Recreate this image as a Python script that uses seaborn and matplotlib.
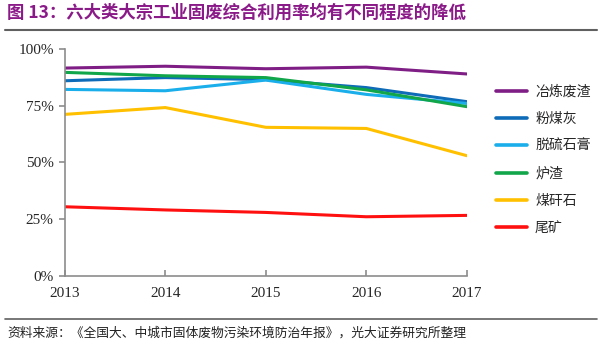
import matplotlib
matplotlib.use("Agg")
import matplotlib.pyplot as plt
import seaborn as sns
import pandas as pd
from matplotlib.lines import Line2D

years = [2013, 2014, 2015, 2016, 2017]
series_names = ["冶炼废渣", "粉煤灰", "脱硫石膏", "炉渣", "煤矸石", "尾矿"]
smelting_slag = [91.6, 92.4, 91.3, 92.0, 89.0]
fly_ash = [86.0, 87.4, 86.5, 83.0, 76.8]
desulf_gypsum = [82.2, 81.6, 86.3, 80.0, 76.0]
furnace_slag = [89.7, 88.2, 87.4, 82.0, 74.6]
coal_gangue = [71.2, 74.2, 65.5, 65.0, 53.0]
tailings = [30.5, 29.1, 28.0, 26.1, 26.7]
colors = ["#7F1F86", "#0E6BB8", "#1AAEEB", "#12A64A", "#FFC000", "#FF1010"]
yticks = [0, 25, 50, 75, 100]
ytick_labels = ["0%", "25%", "50%", "75%", "100%"]

values = [smelting_slag, fly_ash, desulf_gypsum, furnace_slag, coal_gangue, tailings]
df = pd.DataFrame({
    "year": years * len(series_names),
    "value": [v for vals in values for v in vals],
    "series": [n for n in series_names for _ in years],
})

sns.set_theme(style="white")
plt.rcParams["font.family"] = ["Liberation Serif", "Noto Sans CJK SC", "DejaVu Sans"]

fig = plt.figure(figsize=(6.0, 3.45), dpi=100)
ax = fig.add_axes([0.108, 0.2, 0.67, 0.658])

sns.lineplot(data=df, x="year", y="value", hue="series", hue_order=series_names,
             palette=colors, linewidth=2.2, ax=ax, legend=False)

ax.set_xlim(2013, 2017)
ax.set_ylim(0, 100)
ax.set_xticks(years)
ax.set_xticklabels([str(y) for y in years], fontsize=11)
ax.set_yticks(yticks)
ax.set_yticklabels(ytick_labels, fontsize=11)
ax.set_xlabel("")
ax.set_ylabel("")
for s in ["top", "right"]:
    ax.spines[s].set_visible(False)
for s in ["left", "bottom"]:
    ax.spines[s].set_color("#8C8C8C")
    ax.spines[s].set_linewidth(1.2)
ax.tick_params(axis="y", direction="out", length=4, color="#8C8C8C", width=1.2, left=True, pad=4)
ax.tick_params(axis="x", direction="in", length=4, color="#8C8C8C", width=1.2, bottom=True, pad=8)
ax.grid(False)

handles = [Line2D([0], [0], color=c, lw=2.6) for c in colors]
leg = fig.legend(handles, series_names, loc="upper left", bbox_to_anchor=(0.805, 0.79),
                 frameon=False, handlelength=2.3, labelspacing=0.95,
                 handletextpad=0.55,
                 prop={"family": ["Noto Sans CJK SC"], "size": 10})

fig.text(0.012, 0.962, "图 13：六大类大宗工业固废综合利用率均有不同程度的降低",
         color="#8B1A89", fontsize=12.5, fontweight="bold", va="center",
         family=["Noto Sans CJK SC", "DejaVu Sans"])
fig.add_artist(Line2D([0.008, 0.995], [0.912, 0.912], color="#606060", lw=1.5))
fig.add_artist(Line2D([0.008, 0.995], [0.075, 0.075], color="#606060", lw=1.2))
fig.text(0.012, 0.035, "资料来源：《全国大、中城市固体废物污染环境防治年报》，光大证券研究所整理",
         color="#222222", fontsize=9.2, va="center",
         family=["Noto Sans CJK SC", "DejaVu Sans"])

fig.savefig("out.png", dpi=100)
